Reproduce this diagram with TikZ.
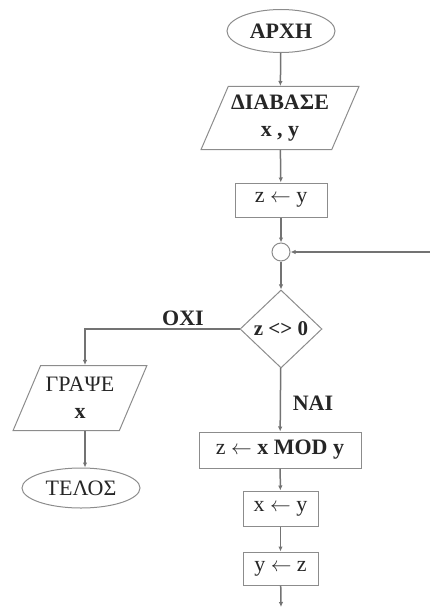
\documentclass[tikz,border=0pt]{standalone}
\usepackage{fontspec}
\setmainfont{Liberation Serif}
\usetikzlibrary{shapes.geometric,arrows.meta,calc}
\begin{document}
\begin{tikzpicture}[x=1pt,y=-1pt,
  font=\fontsize{22}{25}\selectfont,
  box/.style={draw=black!45,line width=1pt,rectangle,inner sep=0pt,align=center,text=black!85},
  term/.style={box,ellipse},
  io/.style={box,trapezium,trapezium stretches=true,align=center},
  dec/.style={box,diamond},
  conn/.style={draw=black!55,line width=1.5pt,-{Latex[length=5pt,width=4.5pt]}},
  lab/.style={font=\fontsize{22}{25}\selectfont\bfseries,text=black!85,inner sep=0pt}]
\useasboundingbox (0,0) rectangle (430,607);
\node[term,minimum width=108,minimum height=43,font=\fontsize{22}{25}\selectfont\bfseries] (start) at (281,31) {ΑΡΧΗ};
\node[io,trapezium left angle=61,trapezium right angle=119,minimum width=158,minimum height=63,font=\fontsize{22}{27}\selectfont\bfseries] (read) at (280,118) {ΔΙΑΒΑΣΕ\\x , y};
\node[box,minimum width=92,minimum height=34] (a1) at (281,200) {z $\leftarrow$ y};
\node[draw=black!45,line width=1pt,circle,minimum size=18,inner sep=0pt] (jn) at (281,252) {};
\node[dec,minimum width=82,minimum height=78,font=\fontsize{21}{22}\selectfont\bfseries] (d) at (281,329) {z <> 0};
\node[io,trapezium left angle=60,trapezium right angle=120,minimum width=134,minimum height=65,font=\fontsize{22}{27}\selectfont] (out) at (80,398) {ΓΡΑΨΕ\\\textbf{x}};
\node[term,minimum width=118,minimum height=40] (end) at (81,488) {ΤΕΛΟΣ};
\node[box,minimum width=162,minimum height=36] (a2) at (280,450) {z $\leftarrow$ \textbf{x MOD y}};
\node[box,minimum width=75,minimum height=35] (a3) at (280.5,508.5) {x $\leftarrow$ y};
\node[box,minimum width=75,minimum height=33] (a4) at (280.5,568.5) {y $\leftarrow$ z};
\coordinate (loopin) at (430,252);
\coordinate (bottom) at (281,607);
\coordinate (lcol) at (85,329);
\node[lab] (oxi) at (183,318) {ΟΧΙ};
\node[lab] (nai) at (313,403) {ΝΑΙ};
\draw[conn] (start) -- (read);
\draw[conn] (read) -- (a1);
\draw[conn] (a1) -- (jn);
\draw[conn] (jn) -- (d);
\draw[conn] (d.west) -- (lcol) -- (lcol |- out.north);
\draw[conn] (lcol |- out.south) -- (lcol |- end.north);
\draw[conn] (d) -- (a2);
\draw[conn] (a2) -- (a3);
\draw[conn] (a3) -- (a4);
\draw[conn] (a4) -- (bottom);
\draw[conn] (loopin) -- (jn);
\end{tikzpicture}
\end{document}
